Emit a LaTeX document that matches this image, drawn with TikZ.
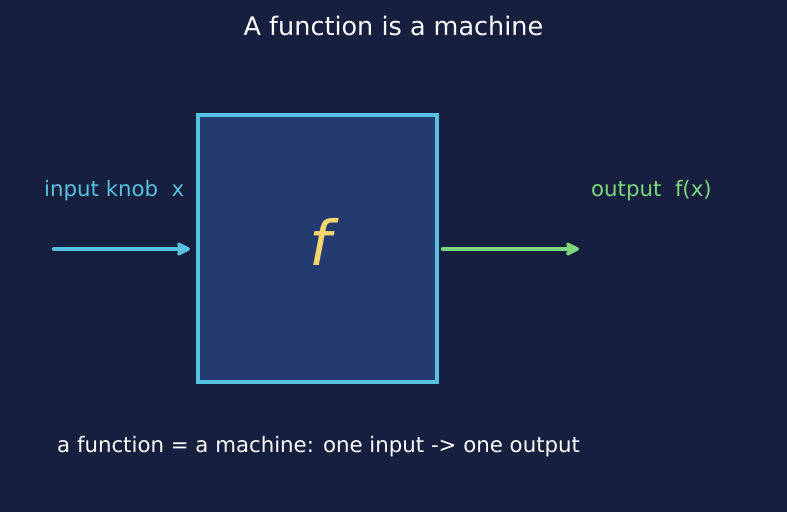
\documentclass[tikz,border=0pt]{standalone}
\usepackage{fontspec}
\setmainfont{DejaVu Sans}
\usetikzlibrary{arrows.meta}
\definecolor{bg}{HTML}{161F3D}
\definecolor{boxfill}{HTML}{233B6E}
\definecolor{cyanc}{HTML}{56C1E0}
\definecolor{greenc}{HTML}{7DD87D}
\definecolor{yellowc}{HTML}{F5D76E}
\tikzset{
  lbl/.style={inner sep=0pt, font=\fontsize{21.3}{25}\selectfont},
  flow/.style={line width=4.5pt, line cap=round, -{Stealth[length=16pt,width=16pt,inset=3pt,round]}},
}
\begin{document}
\begin{tikzpicture}[x=1pt,y=-1pt]
\fill[bg] (0,0) rectangle (787,512);
\useasboundingbox (0,0) rectangle (787,512);
\node[white, inner sep=0pt, font=\fontsize{25.5}{30}\selectfont] (title) at (393.5,26) {A function is a machine};
\node[draw=cyanc, fill=boxfill, line width=4pt, minimum width=239pt, minimum height=267pt, inner sep=0pt] (box) at (317.5,248.5) {};
\node[yellowc, inner sep=0pt, font=\fontsize{62}{66}\itshape\selectfont] (f) at (320,242) {f};
\node[lbl, cyanc, anchor=west] (inlbl) at (44,191) {input knob\ \ x};
\node[lbl, greenc, anchor=west] (outlbl) at (591,191) {output\ \ f(x)};
\coordinate (inA) at (54,249);
\coordinate (outB) at (579,249);
\draw[flow, cyanc] (inA) -- ([xshift=-6pt]box.west |- inA);
\draw[flow, greenc] ([xshift=4pt]box.east |- outB) -- (outB);
\node[white, lbl, anchor=west] (note) at (57,447) {a function = a machine: one input -> one output};
\end{tikzpicture}
\end{document}
